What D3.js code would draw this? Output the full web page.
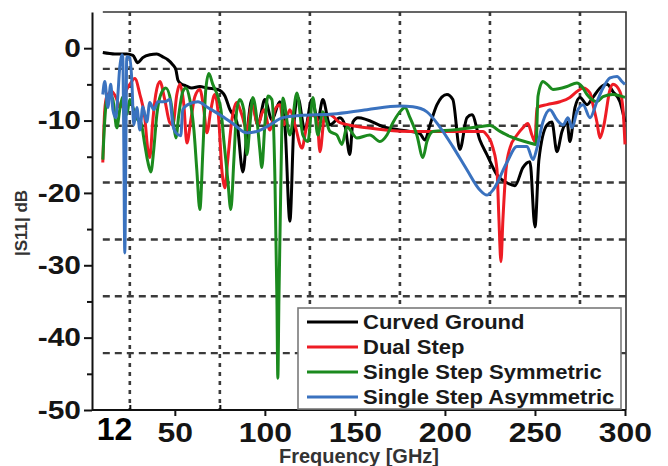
<!DOCTYPE html>
<html lang="en">
<meta charset="utf-8">
<style>
  body { margin: 0; background: #fff; }
  svg { display: block; font-family: "Liberation Sans", Arial, sans-serif; }
  .grid-h { stroke: #3a3a3a; stroke-width: 2.4px; stroke-dasharray: 7 5; }
  .grid-v { stroke: #3a3a3a; stroke-width: 2.6px; stroke-dasharray: 4 5; }
  .axis path, .axis line { stroke: #111; stroke-width: 2px; }
  .axis text { font-weight: bold; fill: #151515; }
  .frame { stroke: #333; stroke-width: 1.6px; fill: none; }
  .curve { fill: none; stroke-width: 3px; stroke-linejoin: round; }
</style>
<script src="https://d3js.org/d3.v7.min.js"></script>
<body>
<div id="chart"></div>
<script>
// values: [frequency GHz, |S11| dB]
const curvedGround = [
  [10,-0.6],[16.7,-0.8],[23.3,-0.8],[26.7,-1.0],[29.4,-2.0],[32.2,-1.3],[36.1,-0.9],[40,-0.8],
  [43.3,-1.2],[46.1,-1.6],[48.9,-2.3],[50.6,-3.0],[51.7,-4.4],[53.3,-4.9],[56.1,-5.2],[59.4,-5.5],
  [63.9,-5.3],[67.8,-5.5],[73.9,-5.7],[77.8,-6.6],[80.6,-8.5],[84.4,-10.2],[87.8,-17.1],[90,-12.0],
  [92.8,-7.1],[96.1,-10.6],[100,-7.1],[103.9,-9.9],[108.3,-7.4],[111.1,-10.6],[113.9,-23.9],[116.1,-10.6],
  [118.3,-6.8],[122.2,-11.3],[126.1,-7.1],[129.4,-9.9],[132.2,-7.1],[136.1,-10.6],[141.7,-9.6],[144.4,-10.6],
  [147.2,-14.7],[148.9,-10.2],[151.7,-9.6],[167.8,-11.0],[180.6,-11.5],[186.1,-11.8],[188.9,-12.7],[191.7,-10.6],
  [195.6,-7.8],[201.1,-6.4],[204.4,-7.1],[208.3,-14.0],[212.2,-9.6],[215,-9.2],[219.4,-12.7],[223.3,-14.7],
  [228.9,-17.5],[234.4,-18.6],[238.9,-19.0],[243.3,-16.5],[247.2,-15.7],[250,-24.7],[252.2,-15.4],[256.7,-10.6],
  [259.4,-10.2],[262.2,-14.3],[265,-11.5],[267.8,-10.2],[269.4,-12.9],[272.2,-8.2],[275,-6.8],[278.9,-7.8],
  [282.2,-6.8],[286.1,-5.5],[290,-5.0],[293.3,-6.0],[297.2,-7.4],[300,-10.2]
]
const dualStep = [
  [10,-15.8],[11.1,-8.5],[12.2,-6.7],[15,-6.0],[17.8,-7.1],[19.4,-8.2],[21.1,-7.5],[23.3,-5.7],
  [25,-5.0],[27.8,-4.2],[30.6,-6.4],[33.3,-9.6],[35,-14.0],[36.1,-15.1],[37.8,-9.9],[39.4,-6.4],
  [41.7,-4.6],[44.4,-7.1],[47.2,-10.3],[48.9,-10.6],[51.1,-6.4],[52.8,-5.0],[55,-7.8],[56.7,-13.1],
  [58.9,-9.9],[61.1,-6.7],[63.9,-5.7],[66.1,-8.5],[67.8,-11.7],[70,-8.5],[72.2,-6.4],[74.4,-9.9],
  [76.1,-16.8],[77.8,-19.3],[79.4,-15.4],[81.7,-9.9],[84.4,-7.5],[87.2,-9.2],[90,-11.3],[92.8,-7.8],
  [96.1,-10.6],[99.4,-8.5],[102.8,-11.3],[105.6,-8.5],[108.3,-7.8],[110.6,-10.6],[113.9,-8.5],[116.7,-10.6],
  [120.6,-13.8],[122.8,-11.3],[125,-9.2],[128.9,-9.6],[130.6,-14.3],[133.3,-9.2],[136.1,-9.2],[141.7,-10.3],
  [156.7,-11.0],[180.6,-11.5],[221.1,-11.5],[223.3,-12.0],[226.7,-13.8],[228.9,-16.8],[230,-23.7],[231.1,-29.5],
  [232.2,-23.7],[233.9,-16.8],[236.1,-13.8],[240,-12.0],[243.3,-11.0],[246.1,-10.4],[248.3,-12.0],[250,-12.9],
  [251.1,-8.2],[256.7,-7.8],[263.9,-7.4],[269.4,-6.8],[273.3,-6.0],[276.7,-5.5],[280.6,-6.2],[282.2,-7.8],
  [284.4,-10.2],[286.1,-12.4],[288.3,-10.6],[291.7,-5.7],[293.3,-5.0],[297.2,-6.0],[298.9,-8.5],[300,-13.3]
]
const singleStepSym = [
  [10,-15.4],[11.1,-9.9],[12.2,-7.1],[13.9,-6.4],[15.6,-7.1],[17.8,-11.0],[19.4,-8.5],[21.1,-6.7],
  [23.3,-9.2],[25,-7.1],[27.2,-8.5],[29.4,-9.9],[31.1,-10.2],[33.3,-13.3],[35,-15.7],[36.7,-17.1],
  [38.3,-14.0],[40,-9.2],[42.2,-6.4],[45,-5.5],[47.8,-7.4],[49.4,-10.6],[50.6,-12.4],[52.2,-9.2],
  [54.4,-6.0],[56.1,-5.5],[58.3,-7.1],[60.6,-11.3],[62.2,-16.8],[63.9,-22.3],[65.6,-14.0],[67.2,-5.7],
  [68.9,-3.5],[71.1,-5.0],[73.9,-6.7],[75.6,-8.5],[77.2,-12.7],[79.4,-18.2],[81.1,-22.3],[82.8,-15.4],
  [84.4,-8.5],[86.1,-7.1],[88.3,-8.5],[90,-14.7],[91.7,-10.6],[93.3,-6.8],[95.6,-9.9],[97.2,-14.0],
  [98.3,-16.5],[100,-10.6],[101.7,-6.6],[103.9,-7.1],[105.6,-18.2],[106.7,-34.8],[107.2,-45.6],[107.8,-34.8],
  [108.9,-18.2],[110,-6.9],[113.9,-12.0],[117.8,-6.2],[121.1,-12.0],[123.9,-12.9],[126.7,-6.8],[129.4,-12.0],
  [132.2,-8.8],[136.1,-11.5],[140,-12.0],[142.8,-13.3],[145.6,-10.9],[151.1,-12.4],[158.3,-12.0],[163.9,-12.9],
  [167.8,-12.0],[171.1,-10.3],[175,-8.8],[177.8,-8.2],[180.6,-9.6],[184.4,-12.0],[187.8,-15.1],[190,-12.9],
  [193.3,-11.5],[204.4,-11.3],[217.8,-10.9],[225,-10.7],[230.6,-11.5],[236.1,-12.2],[247.2,-13.1],[250.6,-13.3],
  [251.7,-6.6],[254.4,-4.6],[257.2,-5.1],[260,-5.7],[267.8,-5.3],[273.3,-4.8],[276.1,-5.3],[278.9,-6.4],
  [284.4,-7.4],[287.8,-6.7],[293.3,-6.4],[300,-6.8]
]
const singleStepAsym = [
  [10,-6.4],[11.1,-4.6],[12.8,-8.2],[14.4,-5.0],[15.6,-8.5],[17.2,-9.6],[18.3,-6.7],[19.4,-2.7],
  [20.6,-0.9],[21.1,-1.3],[21.7,-14.0],[22.2,-28.3],[22.8,-14.0],[23.3,-1.2],[25,-1.3],[26.1,-4.4],
  [27.2,-10.6],[28.9,-8.2],[30.6,-11.3],[32.2,-8.1],[34.4,-10.2],[36.1,-7.5],[38.3,-8.5],[40.6,-7.4],
  [44.4,-7.4],[47.2,-7.1],[48.9,-10.6],[50.6,-11.7],[53.3,-12.1],[54.4,-8.5],[57.2,-7.8],[62.8,-7.4],
  [68.3,-8.2],[75,-9.2],[82.2,-10.4],[90,-11.7],[95.6,-11.5],[102.8,-10.6],[110,-9.6],[119.4,-9.3],
  [137.8,-9.1],[156.7,-8.5],[175,-8.0],[182.2,-8.1],[190,-8.8],[197.2,-10.9],[204.4,-13.6],[212.2,-16.8],
  [219.4,-19.6],[223.3,-20.3],[226.7,-19.6],[234.4,-15.8],[240,-13.6],[245.6,-13.6],[248.9,-15.4],[251.1,-13.8],
  [254.4,-10.2],[258.3,-8.5],[262.2,-9.9],[265.6,-10.6],[268.3,-9.6],[270.6,-11.0],[273.3,-8.8],[276.7,-7.8],
  [280.6,-9.6],[284.4,-7.4],[287.8,-5.5],[291.7,-4.1],[295.6,-3.9],[298.3,-4.6],[300,-5.0]
]

const seriesNames = ["Curved Ground", "Dual Step", "Single Step Symmetric", "Single Step Asymmetric"]
const seriesColors = ["#000000", "#ee1c24", "#1b8a1e", "#3a72bf"]
const seriesData = [curvedGround, dualStep, singleStepSym, singleStepAsym]

const xTicks = [50, 100, 150, 200, 250, 300]
const xGrid = [25, 75, 125, 175, 225, 275]
const yTicks = [-50, -40, -30, -20, -10, 0]
const yMinor = [-45, -35, -25, -15, -5]

const WIDTH = 668, HEIGHT = 466

const svg = d3.select("#chart").append("svg")
  .attr("width", WIDTH)
  .attr("height", HEIGHT)

svg.append("rect").attr("width", WIDTH).attr("height", HEIGHT).attr("fill", "#fff")

// scales
const x = d3.scaleLinear().domain([4, 300]).range([92, 625])
const y = d3.scaleLinear().domain([-50, 5]).range([410, 12])

const plotLeft = x(10), plotRight = 626

// grid: 7 equal bands vertically (from the underlying plot)
const yGrid = d3.range(1, 7).map(k => 5 - k * 55 / 7)

svg.append("g").selectAll("line").data(yGrid).join("line")
  .attr("class", "grid-h")
  .attr("x1", plotLeft).attr("x2", plotRight)
  .attr("y1", d => y(d)).attr("y2", d => y(d))

svg.append("g").selectAll("line").data(xGrid).join("line")
  .attr("class", "grid-v")
  .attr("x1", d => x(d)).attr("x2", d => x(d))
  .attr("y1", y(5)).attr("y2", y(-50))

// frame top/right
svg.append("path").attr("class", "frame")
  .attr("d", `M${plotLeft},${y(5)}H${plotRight}V${y(-50)}`)

// curves
const line = d3.line()
  .x(d => x(d[0]))
  .y(d => y(d[1]))
  .curve(d3.curveMonotoneX)

svg.append("g").selectAll("path").data(seriesData).join("path")
  .attr("class", "curve")
  .attr("stroke", (d, i) => seriesColors[i])
  .attr("d", line)

// axes
const yAxis = svg.append("g").attr("class", "axis")
  .attr("transform", `translate(92,0)`)
  .call(d3.axisLeft(y).tickValues(yTicks).tickSize(8).tickSizeOuter(0).tickPadding(3)
    .tickFormat(d => String(d)))
yAxis.selectAll("text")
  .style("font-size", "26px")
  .attr("x", -9.6)
  .attr("transform", "scale(1.15,1)")

svg.append("g").attr("class", "axis")
  .attr("transform", `translate(92,0)`)
  .call(d3.axisLeft(y).tickValues(yMinor).tickSize(5).tickFormat(""))
  .select(".domain").remove()

const xAxis = svg.append("g").attr("class", "axis")
  .attr("transform", `translate(0,${y(-50)})`)
  .call(d3.axisBottom(x).tickValues(xTicks).tickSize(6).tickSizeOuter(0).tickPadding(6))
xAxis.select(".domain").attr("d", `M92,0H${plotRight}`)
xAxis.selectAll("text")
  .style("font-size", "28px")
  .attr("transform", "scale(1.14,1)")

svg.append("g").attr("class", "axis")
  .attr("transform", `translate(0,${y(-50)})`)
  .call(d3.axisBottom(x).tickValues(xGrid).tickSize(-5).tickFormat(""))
  .select(".domain").remove()

// start-of-band label
svg.append("text")
  .attr("x", x(10) - 6)
  .attr("y", 440)
  .style("font-size", "32px")
  .style("font-weight", "bold")
  .attr("fill", "#000")
  .text("12")

// axis titles
svg.append("text")
  .attr("x", (92 + plotRight) / 2)
  .attr("y", 463)
  .attr("text-anchor", "middle")
  .style("font-size", "20px")
  .style("font-weight", "bold")
  .attr("fill", "#333")
  .text("Frequency [GHz]")

svg.append("text")
  .attr("transform", `translate(27,223) rotate(-90)`)
  .attr("text-anchor", "middle")
  .style("font-size", "17px")
  .style("font-weight", "bold")
  .attr("fill", "#333")
  .text("|S11| dB")

// legend
const legend = svg.append("g").attr("transform", "translate(298,308)")
legend.append("rect")
  .attr("width", 323).attr("height", 101)
  .attr("fill", "#fff")
  .attr("stroke", "#7a7a7a")
  .attr("stroke-width", 1.6)

const rows = legend.selectAll("g.row").data(seriesNames).join("g")
  .attr("class", "row")
  .attr("transform", (d, i) => `translate(0,${14 + i * 25})`)

rows.append("line")
  .attr("x1", 9).attr("x2", 60)
  .attr("stroke", (d, i) => seriesColors[i])
  .attr("stroke-width", 3)

rows.append("text")
  .attr("transform", "translate(65,7) scale(1.13,1)")
  .style("font-size", "19.5px")
  .style("font-weight", "bold")
  .attr("fill", "#1a1a1a")
  .text(d => d)
</script>
</body>
</html>
